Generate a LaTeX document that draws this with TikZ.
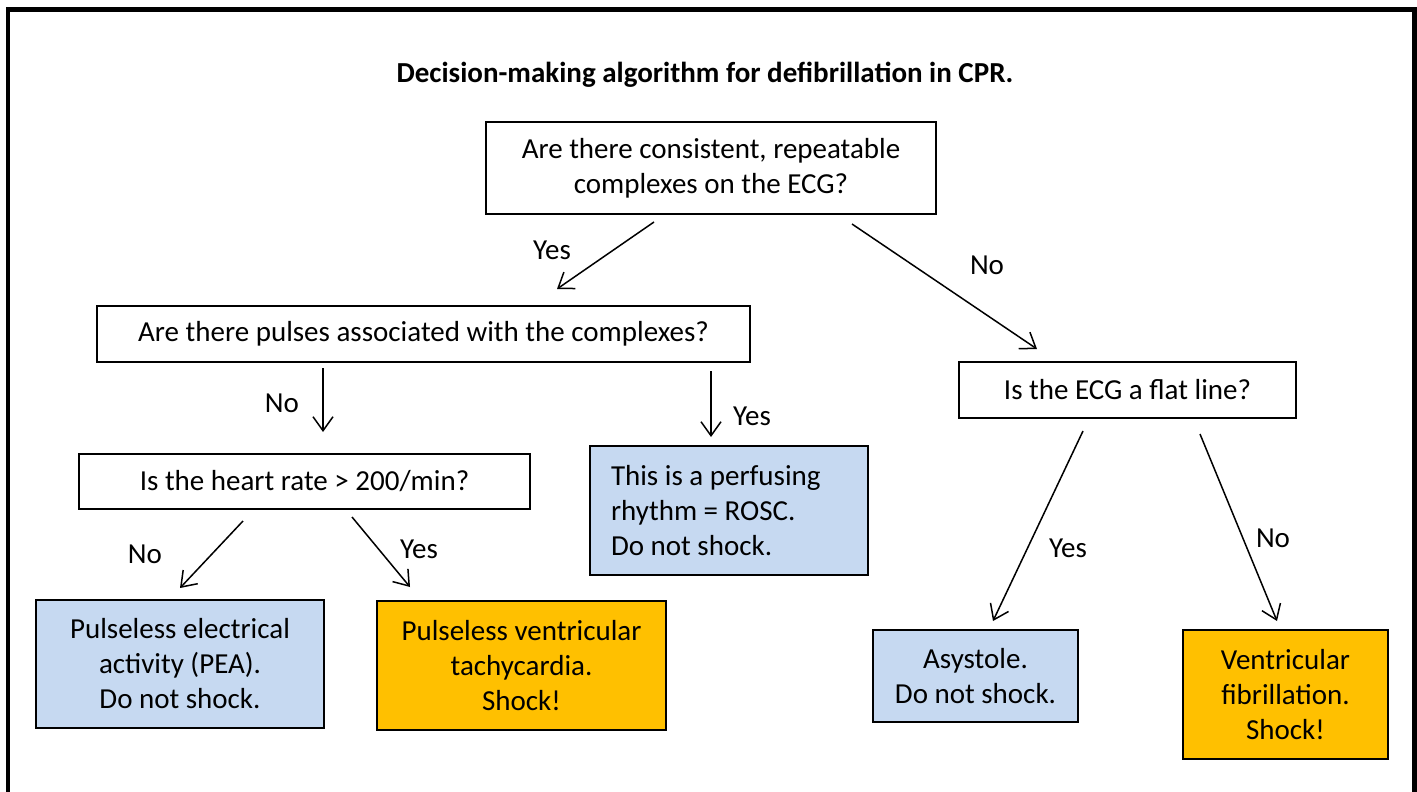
\documentclass[tikz,border=0pt]{standalone}
\usepackage{fontspec}
\setmainfont{Carlito}
\usetikzlibrary{arrows.meta}
\definecolor{paleblue}{HTML}{C6D9F1}
\definecolor{amber}{HTML}{FFC000}
\begin{document}
\begin{tikzpicture}
  [x=1pt,y=-1pt,every node/.style={font=\fontsize{29}{35}\selectfont}]
  \tikzstyle{question} = [draw,line width=1.8pt,rectangle,inner sep=0pt,align=center]
  \tikzstyle{noshock} = [question,fill=paleblue]
  \tikzstyle{shock} = [question,fill=amber]
  \tikzstyle{decision} = [line width=1.5pt,-{Straight Barb[length=14pt,width=20pt]}]
  \clip (0,0) rectangle (1417,792);
  \draw[line width=4.5pt] (8,830) -- (8,9.5) -- (1414.5,9.5) -- (1414.5,830);
  \node (title) at (705,75) {\fontsize{29}{35}\selectfont\bfseries Decision-making algorithm for defibrillation in CPR.};
  % questions
  \node[question,minimum width=450,minimum height=92] (q1) at (711,168) {Are there consistent, repeatable\\complexes on the ECG?};
  \node[question,minimum width=653,minimum height=56] (q2) at (423.5,334) {Are there pulses associated with the complexes?};
  \node[question,minimum width=337,minimum height=56] (q3) at (1127.5,390) {Is the ECG a flat line?};
  \node[question,minimum width=451,minimum height=55] (hr) at (304.5,481.5) {Is the heart rate > 200/min?};
  % outcomes
  \node[noshock,minimum width=278,minimum height=129,text width=236,align=flush left] (rosc) at (729,510.5) {This is a perfusing\\rhythm = ROSC.\\Do not shock.};
  \node[noshock,minimum width=288,minimum height=128] (pea) at (180,664) {Pulseless electrical\\activity (PEA).\\Do not shock.};
  \node[shock,minimum width=289,minimum height=129] (pvt) at (521.5,665.5) {Pulseless ventricular\\tachycardia.\\Shock!};
  \node[noshock,minimum width=205,minimum height=92] (asys) at (975.5,676) {Asystole.\\Do not shock.};
  \node[shock,minimum width=205,minimum height=129] (vf) at (1285.5,694.5) {Ventricular\\fibrillation.\\Shock!};
  % arrow ends
  \coordinate (a1) at (654,222);  \coordinate (b1) at (557,289);
  \coordinate (a2) at (852,224);  \coordinate (b2) at (1037,349);
  \coordinate (a3) at (323,368);  \coordinate (b3) at (323,432);
  \coordinate (a4) at (711,371);  \coordinate (b4) at (711,437);
  \coordinate (a5) at (243,521);  \coordinate (b5) at (180,588);
  \coordinate (a6) at (352,517);  \coordinate (b6) at (410,587);
  \coordinate (a7) at (1083,431); \coordinate (b7) at (993,621);
  \coordinate (a8) at (1200,434); \coordinate (b8) at (1277,621);
  \foreach \source/\dest/\answer/\lx/\ly in {a1/b1/Yes/552/250,a2/b2/No/987/265,a3/b3/No/282/403,a4/b4/Yes/752/416,a5/b5/No/145/554,a6/b6/Yes/419/549,a7/b7/Yes/1068/548,a8/b8/No/1273/538}
   \draw[decision] (\source) -- (\dest) node at (\lx,\ly) {\answer};
\end{tikzpicture}
\end{document}
